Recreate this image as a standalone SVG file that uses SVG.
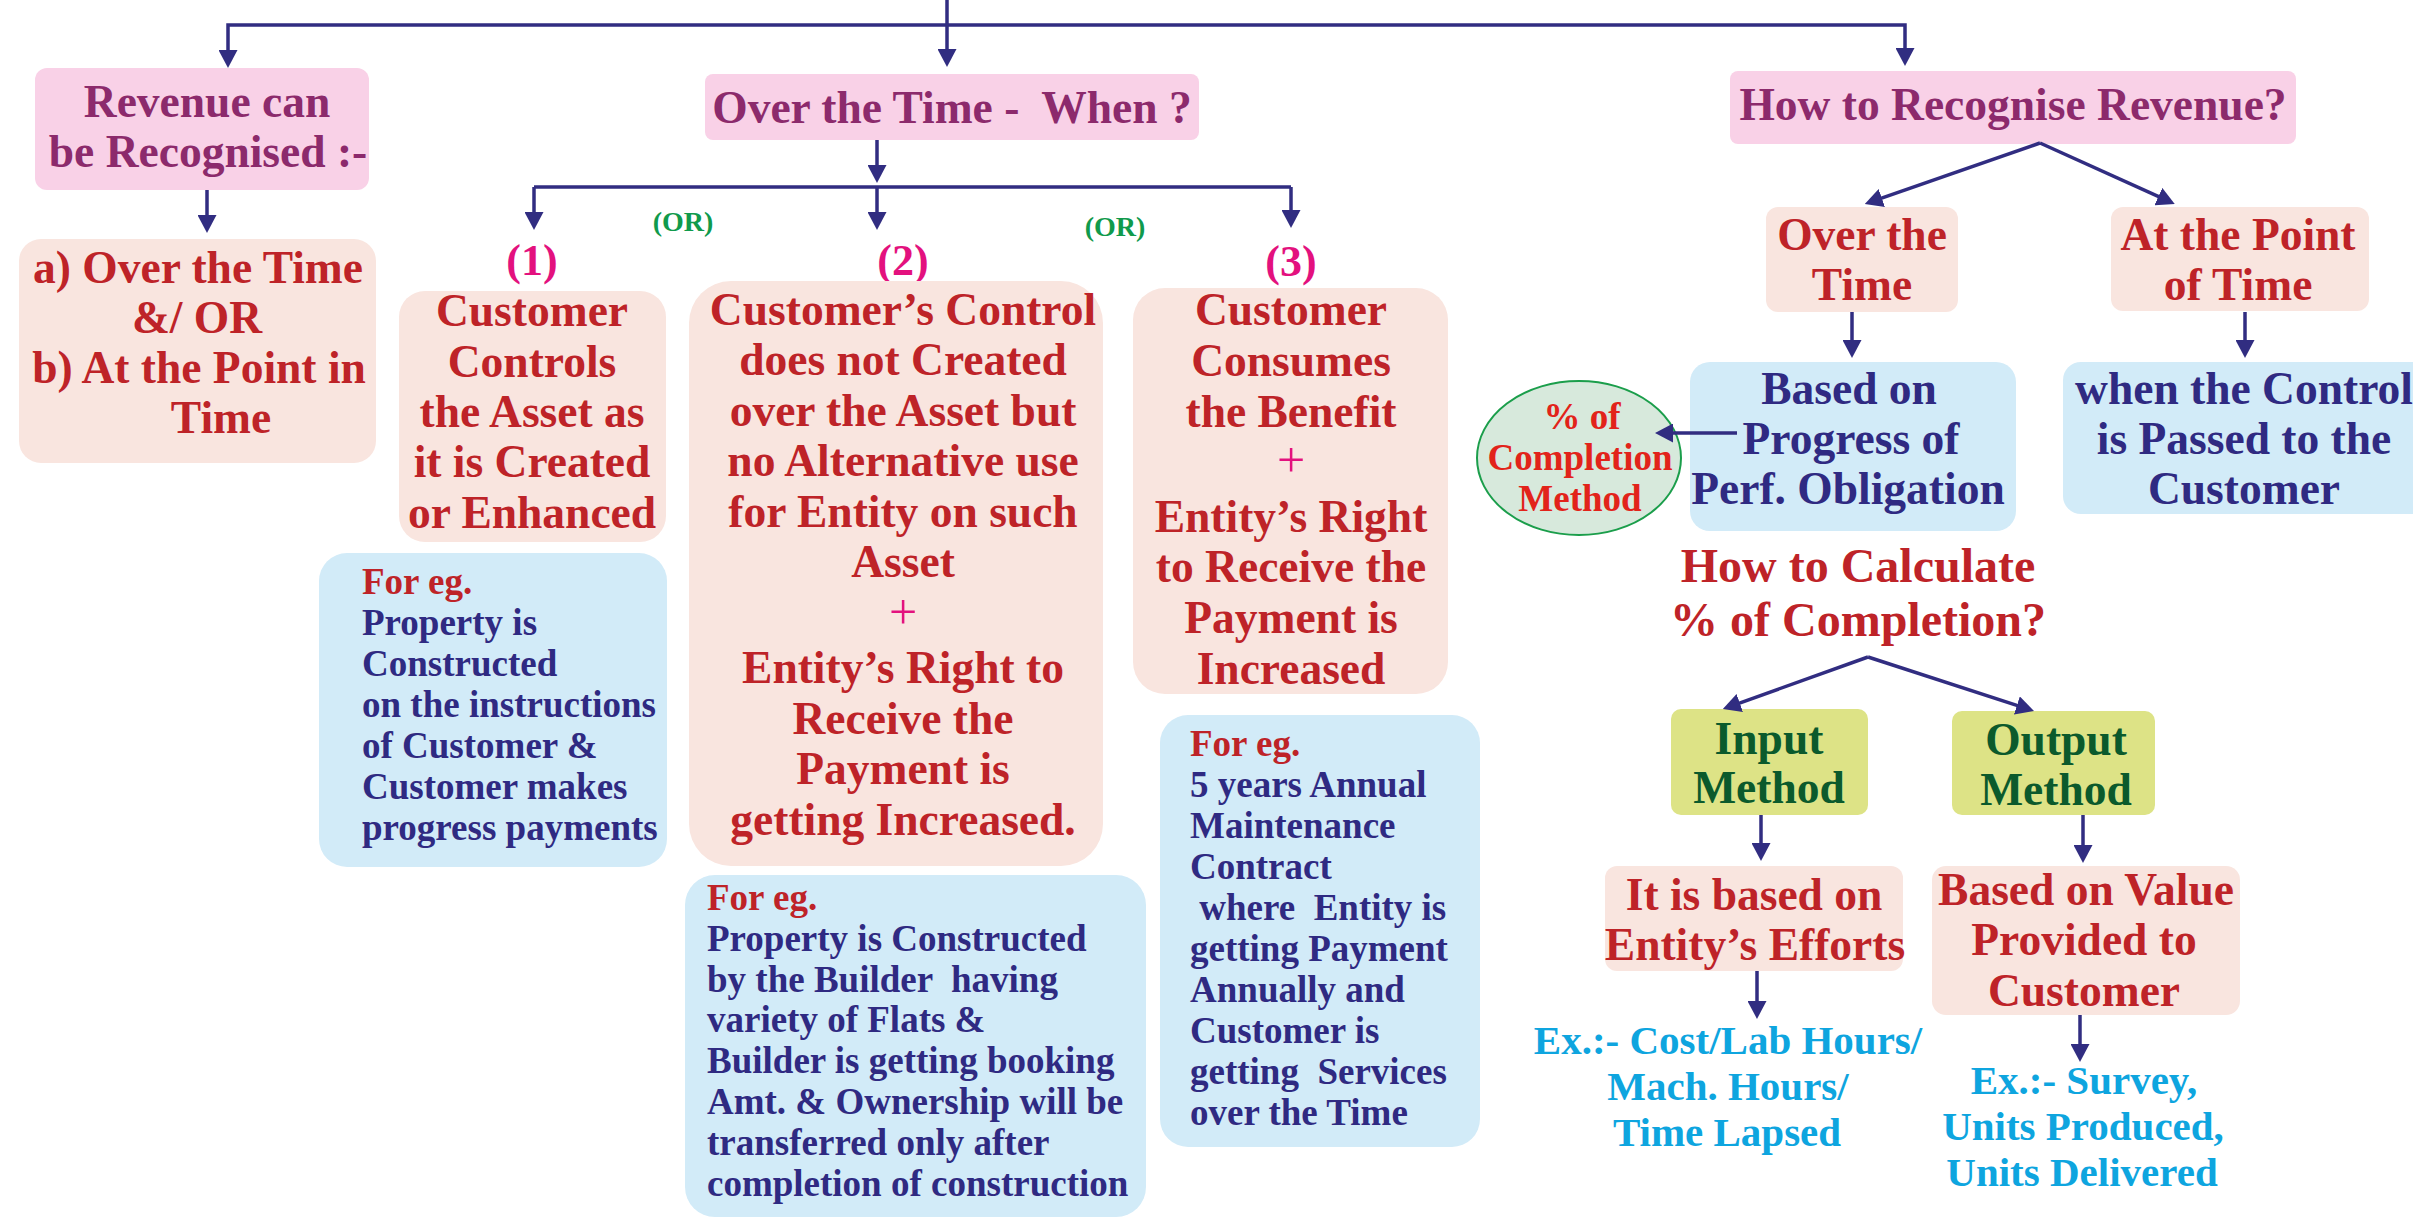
<svg xmlns="http://www.w3.org/2000/svg" width="2413" height="1218" viewBox="0 0 2413 1218">
  <style>
    text{font-family:"Liberation Serif","Times New Roman",serif;font-weight:bold}
    .c{text-anchor:middle}
    .h{font-size:45.5px}
    .m{font-size:37px}
    .x{font-size:41px}
    .purple{fill:#8c2a6c}
    .red{fill:#be2328}
    .navy{fill:#2f2a82}
    .mag{fill:#e3117e}
    .grn{fill:#109a4c}
    .cyan{fill:#0ea5df}
    .dgrn{fill:#0b5a2c}
    .bright{fill:#e2231a}
    .plus{font-weight:normal;font-size:50px;fill:#e3117e;text-anchor:middle}
    .pink{fill:#f9d1e7}
    .peach{fill:#f9e5df}
    .blue{fill:#d2ebf8}
    .lime{fill:#dde386}
    .ln{fill:none;stroke:#312d81;stroke-width:3.5}
  </style>
  <defs>
    <marker id="ah" viewBox="0 0 18 19" refX="4" refY="9.5" markerWidth="18" markerHeight="19" markerUnits="userSpaceOnUse" orient="auto">
      <path d="M0,0 L18,9.5 L0,19 z" fill="#312d81"/>
    </marker>
  </defs>
  <rect width="2413" height="1218" fill="#ffffff"/>

  <g id="revenue-can">
    <rect class="pink" x="35" y="68" width="334" height="122" rx="12"/>
    <text class="h c purple" x="207" y="117">Revenue can</text>
    <text class="h c purple" x="208" y="167">be Recognised :-</text>
  </g>

  <g id="ways">
    <rect class="peach" x="19" y="239" width="357" height="224" rx="22"/>
    <text class="h c red" x="198" y="283">a) Over the Time</text>
    <text class="h c red" x="197" y="333">&amp;/ OR</text>
    <text class="h c red" x="199" y="383">b) At the Point in</text>
    <text class="h c red" x="221" y="433">Time</text>
  </g>

  <g id="over-time-when">
    <rect class="pink" x="705" y="74" width="494" height="66" rx="8"/>
    <text class="h c purple" x="952" y="123" xml:space="preserve">Over the Time -  When ?</text>
  </g>

  <g id="or-labels">
    <text class="c grn" x="683" y="231" font-size="28">(OR)</text>
    <text class="c grn" x="1115" y="236" font-size="28">(OR)</text>
    <text class="c mag" x="532" y="275" font-size="44">(1)</text>
    <text class="c mag" x="903" y="275" font-size="44">(2)</text>
    <text class="c mag" x="1291" y="276" font-size="44">(3)</text>
  </g>

  <g id="case-1">
    <rect class="peach" x="399" y="291" width="267" height="251" rx="26"/>
    <text class="h c red" x="532" y="326">Customer</text>
    <text class="h c red" x="532" y="377">Controls</text>
    <text class="h c red" x="532" y="427">the Asset as</text>
    <text class="h c red" x="532" y="477">it is Created</text>
    <text class="h c red" x="532" y="528">or Enhanced</text>
  </g>

  <g id="case-2">
    <rect class="peach" x="689" y="281" width="414" height="585" rx="42"/>
    <text class="h c red" x="903" y="325">Customer’s Control</text>
    <text class="h c red" x="903" y="375">does not Created</text>
    <text class="h c red" x="903" y="426">over the Asset but</text>
    <text class="h c red" x="903" y="476">no Alternative use</text>
    <text class="h c red" x="903" y="527">for Entity on such</text>
    <text class="h c red" x="903" y="577">Asset</text>
    <text class="plus" x="903" y="629">+</text>
    <text class="h c red" x="903" y="683">Entity’s Right to</text>
    <text class="h c red" x="903" y="734">Receive the</text>
    <text class="h c red" x="903" y="784">Payment is</text>
    <text class="h c red" x="903" y="835">getting Increased.</text>
  </g>

  <g id="case-3">
    <rect class="peach" x="1133" y="288" width="315" height="406" rx="32"/>
    <text class="h c red" x="1291" y="325">Customer</text>
    <text class="h c red" x="1291" y="376">Consumes</text>
    <text class="h c red" x="1291" y="427">the Benefit</text>
    <text class="plus" x="1291" y="477">+</text>
    <text class="h c red" x="1291" y="532">Entity’s Right</text>
    <text class="h c red" x="1291" y="582">to Receive the</text>
    <text class="h c red" x="1291" y="633">Payment is</text>
    <text class="h c red" x="1291" y="684">Increased</text>
  </g>

  <g id="example-1">
    <rect class="blue" x="319" y="553" width="348" height="314" rx="28"/>
    <text class="m red" x="362" y="594">For eg.</text>
    <text class="m navy" x="362" y="635">Property is</text>
    <text class="m navy" x="362" y="676">Constructed</text>
    <text class="m navy" x="362" y="717">on the instructions</text>
    <text class="m navy" x="362" y="758">of Customer &amp;</text>
    <text class="m navy" x="362" y="799">Customer makes</text>
    <text class="m navy" x="362" y="840">progress payments</text>
  </g>

  <g id="example-2">
    <rect class="blue" x="685" y="875" width="461" height="342" rx="30"/>
    <text class="m red" x="707" y="910">For eg.</text>
    <text class="m navy" x="707" y="951">Property is Constructed</text>
    <text class="m navy" x="707" y="992" xml:space="preserve">by the Builder  having</text>
    <text class="m navy" x="707" y="1032">variety of Flats &amp;</text>
    <text class="m navy" x="707" y="1073">Builder is getting booking</text>
    <text class="m navy" x="707" y="1114">Amt. &amp; Ownership will be</text>
    <text class="m navy" x="707" y="1155">transferred only after</text>
    <text class="m navy" x="707" y="1196">completion of construction</text>
  </g>

  <g id="example-3">
    <rect class="blue" x="1160" y="715" width="320" height="432" rx="28"/>
    <text class="m red" x="1190" y="756">For eg.</text>
    <text class="m navy" x="1190" y="797">5 years Annual</text>
    <text class="m navy" x="1190" y="838">Maintenance</text>
    <text class="m navy" x="1190" y="879">Contract</text>
    <text class="m navy" x="1190" y="920" xml:space="preserve"> where  Entity is</text>
    <text class="m navy" x="1190" y="961">getting Payment</text>
    <text class="m navy" x="1190" y="1002">Annually and</text>
    <text class="m navy" x="1190" y="1043">Customer is</text>
    <text class="m navy" x="1190" y="1084" xml:space="preserve">getting  Services</text>
    <text class="m navy" x="1190" y="1125">over the Time</text>
  </g>

  <g id="how-recognise">
    <rect class="pink" x="1730" y="71" width="566" height="73" rx="8"/>
    <text class="h c purple" x="2013" y="120">How to Recognise Revenue?</text>
  </g>

  <g id="over-the-time">
    <rect class="peach" x="1766" y="207" width="192" height="105" rx="12"/>
    <text class="h c red" x="1862" y="250">Over the</text>
    <text class="h c red" x="1862" y="300">Time</text>
  </g>

  <g id="point-of-time">
    <rect class="peach" x="2111" y="207" width="258" height="104" rx="12"/>
    <text class="h c red" x="2238" y="250">At the Point</text>
    <text class="h c red" x="2238" y="300">of Time</text>
  </g>

  <g id="progress">
    <rect class="blue" x="1690" y="362" width="326" height="169" rx="20"/>
    <text class="h c navy" x="1849" y="404">Based on</text>
    <text class="h c navy" x="1851" y="454">Progress of</text>
    <text class="h c navy" x="1848" y="504">Perf. Obligation</text>
  </g>

  <g id="control-passed">
    <rect class="blue" x="2063" y="362" width="370" height="152" rx="18"/>
    <text class="h c navy" x="2244" y="404">when the Control</text>
    <text class="h c navy" x="2244" y="454">is Passed to the</text>
    <text class="h c navy" x="2244" y="504">Customer</text>
  </g>

  <g id="completion-method">
    <ellipse cx="1579" cy="458" rx="102" ry="77" fill="#d7e9dc" stroke="#1b9e4b" stroke-width="2"/>
    <text class="c bright" x="1582" y="429" font-size="37">% of</text>
    <text class="c bright" x="1580" y="470" font-size="37">Completion</text>
    <text class="c bright" x="1580" y="511" font-size="37">Method</text>
  </g>

  <g id="how-calculate">
    <text class="c red" x="1858" y="582" font-size="48">How to Calculate</text>
    <text class="c red" x="1858" y="636" font-size="48">% of Completion?</text>
  </g>

  <g id="input-method">
    <rect class="lime" x="1671" y="709" width="197" height="106" rx="10"/>
    <text class="h c dgrn" x="1769" y="754">Input</text>
    <text class="h c dgrn" x="1769" y="803">Method</text>
  </g>

  <g id="output-method">
    <rect class="lime" x="1952" y="711" width="203" height="104" rx="10"/>
    <text class="h c dgrn" x="2056" y="755">Output</text>
    <text class="h c dgrn" x="2056" y="805">Method</text>
  </g>

  <g id="efforts">
    <rect class="peach" x="1605" y="866" width="298" height="105" rx="12"/>
    <text class="h c red" x="1754" y="910">It is based on</text>
    <text class="h c red" x="1755" y="960">Entity’s Efforts</text>
  </g>

  <g id="value">
    <rect class="peach" x="1932" y="866" width="308" height="149" rx="14"/>
    <text class="h c red" x="2086" y="905">Based on Value</text>
    <text class="h c red" x="2084" y="955">Provided to</text>
    <text class="h c red" x="2084" y="1006">Customer</text>
  </g>

  <g id="input-examples">
    <text class="x c cyan" x="1728" y="1054">Ex.:- Cost/Lab Hours/</text>
    <text class="x c cyan" x="1728" y="1100">Mach. Hours/</text>
    <text class="x c cyan" x="1727" y="1146">Time Lapsed</text>
  </g>

  <g id="output-examples">
    <text class="x c cyan" x="2084" y="1094">Ex.:- Survey,</text>
    <text class="x c cyan" x="2083" y="1140">Units Produced,</text>
    <text class="x c cyan" x="2082" y="1186">Units Delivered</text>
  </g>

  <!-- connectors, drawn over the boxes -->
  <g id="connectors">
    <path class="ln" d="M947,0 V25"/>
    <path class="ln" d="M947,25 H228 V54" marker-end="url(#ah)"/>
    <path class="ln" d="M947,25 H1905 V52" marker-end="url(#ah)"/>
    <path class="ln" d="M947,25 V53" marker-end="url(#ah)"/>
    <path class="ln" d="M207,190 V219" marker-end="url(#ah)"/>
    <path class="ln" d="M877,140 V169" marker-end="url(#ah)"/>
    <path class="ln" d="M534,187 H1291"/>
    <path class="ln" d="M877,187 V216" marker-end="url(#ah)"/>
    <path class="ln" d="M534,187 V216" marker-end="url(#ah)"/>
    <path class="ln" d="M1291,187 V214" marker-end="url(#ah)"/>
    <path class="ln" d="M2040,143 L1878,199.4" marker-end="url(#ah)"/>
    <path class="ln" d="M2040,143 L2162,198.2" marker-end="url(#ah)"/>
    <path class="ln" d="M1852,312 V344" marker-end="url(#ah)"/>
    <path class="ln" d="M2245,312 V344" marker-end="url(#ah)"/>
    <path class="ln" d="M1737,433 H1669" marker-end="url(#ah)"/>
    <path class="ln" d="M1868,657 L1736,704.3" marker-end="url(#ah)"/>
    <path class="ln" d="M1868,657 L2020.7,706.7" marker-end="url(#ah)"/>
    <path class="ln" d="M1761,815 V847" marker-end="url(#ah)"/>
    <path class="ln" d="M2083,815 V849" marker-end="url(#ah)"/>
    <path class="ln" d="M1757,971 V1005" marker-end="url(#ah)"/>
    <path class="ln" d="M2080,1015 V1048" marker-end="url(#ah)"/>
  </g>
</svg>
